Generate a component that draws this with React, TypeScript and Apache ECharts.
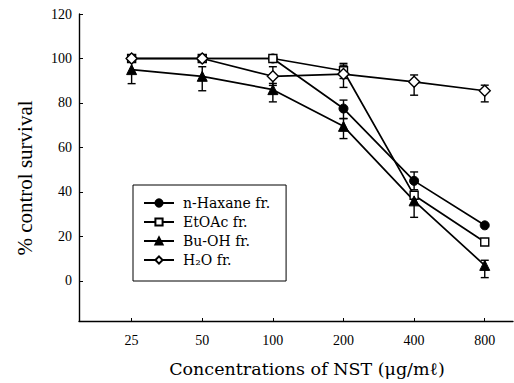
import React, { useEffect, useRef } from "react";
import * as echarts from "echarts";

// Concentrations (µg/ml) on the x axis, plotted at equal spacing
const concentrations = ["25", "50", "100", "200", "400", "800"];
const yTicks = [0, 20, 40, 60, 80, 100, 120];

// % control survival per fraction
const hexane = [100, 100, 100, 77.5, 45, 25];
const etoac = [100, 100, 100, 94.5, 38.5, 17.5];
const buoh = [95, 92, 86, 69.5, 36, 7];
const water = [100, 100, 92, 93, 89.5, 85.5];

// Error bar bounds [low, high]; null where no bar is drawn
const hexaneErr: ([number, number] | null)[] = [null, null, null, [73, 81.3], [41, 49], null];
const etoacErr: ([number, number] | null)[] = [null, null, null, [91, 97.8], null, null];
const buohErr: ([number, number] | null)[] = [
  [88.7, 98.3],
  [85.5, 96.3],
  [80.5, 88.8],
  [64, 73],
  [28.6, 39.9],
  [1.5, 9.3],
];
const waterErr: ([number, number] | null)[] = [null, null, [87.9, 96.3], [87, 97], [83.5, 92.6], [80.5, 88]];

const xTitle = "Concentrations of NST (μg/mℓ)";
const yTitle = "% control survival";

const SERIF = "'Liberation Serif', 'DejaVu Serif', serif";
const WIDE_SERIF = "'DejaVu Serif', serif";

function toPoints(values: number[]) {
  return values.map((v, i) => [i, v]);
}

function errData(errs: ([number, number] | null)[]) {
  const out: number[][] = [];
  errs.forEach((e, i) => {
    if (e) out.push([i, e[0], e[1]]);
  });
  return out;
}

const allErr = [
  ...errData(hexaneErr),
  ...errData(etoacErr),
  ...errData(buohErr),
  ...errData(waterErr),
];

export default function App() {
  const ref = useRef<HTMLDivElement>(null);

  useEffect(() => {
    if (!ref.current) return;
    const chart = echarts.init(ref.current, null, { renderer: "svg" });

    const lineBase = {
      type: "line" as const,
      lineStyle: { color: "#000", width: 1.7 },
      z: 3,
    };

    chart.setOption({
      animation: false,
      backgroundColor: "#fff",
      grid: { left: 79, right: 1, top: 14, bottom: 62 },
      graphic: [
        {
          type: "text",
          x: 25,
          y: 178,
          rotation: Math.PI / 2,
          style: {
            text: yTitle,
            fontFamily: SERIF,
            fontSize: 21,
            fill: "#000",
            align: "center",
            verticalAlign: "middle",
          },
        },
        {
          type: "text",
          x: 307,
          y: 369,
          style: {
            text: xTitle,
            fontFamily: WIDE_SERIF,
            fontSize: 17.5,
            fill: "#000",
            align: "center",
            verticalAlign: "middle",
          },
        },
      ],
      legend: {
        orient: "vertical",
        left: 133,
        top: 185,
        backgroundColor: "#fff",
        borderColor: "#000",
        borderWidth: 1,
        padding: [11, 16, 14, 10],
        itemGap: 5,
        itemWidth: 30,
        itemHeight: 9,
        textStyle: { fontFamily: WIDE_SERIF, fontSize: 14, color: "#000", padding: [0, 0, 0, 4] },
        data: ["n-Haxane fr.", "EtOAc fr.", "Bu-OH fr.", "H₂O fr."],
      },
      xAxis: {
        type: "value",
        min: -0.745,
        max: 5.4,
        splitLine: { show: false },
        axisLine: { onZero: false, lineStyle: { color: "#000", width: 1.4 } },
        axisTick: {
          inside: true,
          length: 3,
          customValues: [0, 1, 2, 3, 4, 5],
          lineStyle: { color: "#000" },
        },
        axisLabel: {
          customValues: [0, 1, 2, 3, 4, 5],
          formatter: (v: number) => concentrations[Math.round(v)],
          fontFamily: SERIF,
          fontSize: 14,
          color: "#000",
          margin: 12,
        },
      },
      yAxis: {
        type: "value",
        min: -18,
        max: 120,
        splitLine: { show: false },
        axisLine: { onZero: false, lineStyle: { color: "#000", width: 1.4 } },
        axisTick: {
          inside: true,
          length: 4,
          customValues: yTicks,
          lineStyle: { color: "#000" },
        },
        axisLabel: {
          customValues: yTicks,
          fontFamily: SERIF,
          fontSize: 14,
          color: "#000",
          margin: 7,
        },
      },
      series: [
        {
          type: "custom",
          name: "err",
          data: allErr,
          z: 2,
          silent: true,
          renderItem: (_params: any, api: any) => {
            const x = api.value(0);
            const lo = api.coord([x, api.value(1)]);
            const hi = api.coord([x, api.value(2)]);
            const cap = 4;
            const style = { stroke: "#000", lineWidth: 1.4 };
            return {
              type: "group",
              children: [
                { type: "line", shape: { x1: lo[0], y1: lo[1], x2: hi[0], y2: hi[1] }, style },
                { type: "line", shape: { x1: lo[0] - cap, y1: lo[1], x2: lo[0] + cap, y2: lo[1] }, style },
                { type: "line", shape: { x1: hi[0] - cap, y1: hi[1], x2: hi[0] + cap, y2: hi[1] }, style },
              ],
            };
          },
        },
        {
          ...lineBase,
          name: "n-Haxane fr.",
          data: toPoints(hexane),
          symbol: "circle",
          symbolSize: 9,
          itemStyle: { color: "#000", borderColor: "#000", borderWidth: 1 },
        },
        {
          ...lineBase,
          name: "EtOAc fr.",
          data: toPoints(etoac),
          symbol: "rect",
          symbolSize: 8,
          itemStyle: { color: "#fff", borderColor: "#000", borderWidth: 1.4 },
        },
        {
          ...lineBase,
          name: "Bu-OH fr.",
          data: toPoints(buoh),
          symbol: "triangle",
          symbolSize: 10,
          itemStyle: { color: "#000", borderColor: "#000", borderWidth: 1 },
        },
        {
          ...lineBase,
          name: "H₂O fr.",
          data: toPoints(water),
          symbol: "diamond",
          symbolSize: 11,
          itemStyle: { color: "#fff", borderColor: "#000", borderWidth: 1.4 },
        },
      ],
    });

    return () => chart.dispose();
  }, []);

  return (
    <div
      ref={ref}
      style={{ position: "absolute", left: 0, top: 0, width: 514, height: 383 }}
    />
  );
}
